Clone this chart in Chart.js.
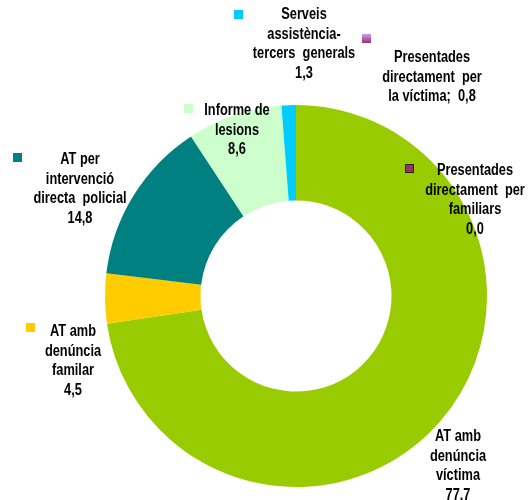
<!DOCTYPE html>
<html lang="ca">
<head>
<meta charset="utf-8">
<title>Origen dels atestats</title>
<script src="https://cdn.jsdelivr.net/npm/chart.js"></script>
<style>
  html, body { margin: 0; padding: 0; background: #fff; }
  #wrap { width: 528px; height: 500px; position: relative; }
</style>
</head>
<body>
<div id="wrap"><canvas id="ring" width="528" height="500"></canvas></div>
<script>
// data, clockwise from 12 o'clock
const categories = [
  ["AT amb", "denúncia", "víctima"],
  ["AT amb", "denúncia", "familar"],
  ["AT per", "intervenció", "directa  policial"],
  ["Informe de", "lesions"],
  ["Serveis", "assistència-", "tercers  generals"],
  ["Presentades", "directament  per", "la víctima;"],
  ["Presentades", "directament  per", "familiars"]
];
const values = [77.7, 4.5, 14.8, 8.6, 1.3, 0.8, 0.0];
const valueLabels = ["77.7", "4,5", "14,8", "8,6", "1,3", "0,8", "0,0"];
const colors = ["#99cc00", "#ffcc00", "#008080", "#ccffcc", "#00ccff", "#cc99ff", "#993366"];
// the 0,8 share is only listed in the labels, not drawn in the ring
const inRing = [true, true, true, true, true, false, true];

// label placement (text centre x, first line y, marker x/y)
const labelPos = [
  { x: 458, y: 437, mx: null, my: null, inline: false },
  { x: 73, y: 332, mx: 26, my: 323, inline: false },
  { x: 80, y: 160, mx: 13, my: 153, inline: false },
  { x: 237, y: 111, mx: 184, my: 104, inline: false },
  { x: 304, y: 15, mx: 234, my: 10, inline: false },
  { x: 432, y: 58, mx: 362, my: 34, inline: true },
  { x: 475, y: 171, mx: 405, my: 164, inline: false }
];

const FONT = "bold 16px 'Liberation Sans', Arial, sans-serif";
const SQUEEZE = 0.8; // narrow face look

const outsideLabels = {
  id: "outsideLabels",
  afterDraw(chart) {
    const ctx = chart.ctx;
    ctx.save();
    ctx.font = FONT;
    ctx.textAlign = "center";
    ctx.textBaseline = "middle";
    categories.forEach((lines, i) => {
      const p = labelPos[i];
      const all = lines.slice();
      if (p.inline) all[all.length - 1] += "  " + valueLabels[i];
      else all.push(valueLabels[i]);
      ctx.fillStyle = "#000";
      all.forEach((t, k) => {
        ctx.save();
        ctx.translate(p.x, p.y + k * 19.5);
        ctx.scale(SQUEEZE, 1);
        ctx.fillText(t, 0, 0);
        ctx.restore();
      });
      if (p.mx !== null) {
        if (i === 5) {
          const g = ctx.createLinearGradient(0, p.my, 0, p.my + 9);
          g.addColorStop(0, "#cc99ff");
          g.addColorStop(1, "#993366");
          ctx.fillStyle = g;
        } else {
          ctx.fillStyle = colors[i];
        }
        ctx.fillRect(p.mx, p.my, 9, 9);
        if (i === 6) {
          ctx.strokeStyle = "#222";
          ctx.lineWidth = 1;
          ctx.strokeRect(p.mx + 0.5, p.my + 0.5, 8, 8);
        }
      }
    });
    ctx.restore();
  }
};

const chart = new Chart(document.getElementById("ring"), {
  type: "doughnut",
  data: {
    labels: categories.map(l => l.join(" ")),
    datasets: [{
      data: values,
      backgroundColor: colors,
      borderWidth: 0
    }]
  },
  options: {
    responsive: false,
    animation: false,
    cutout: "50%",
    layout: { padding: { left: 105, right: 41, top: 105, bottom: 13 } },
    plugins: {
      legend: { display: false },
      tooltip: { enabled: false }
    }
  },
  plugins: [outsideLabels]
});

inRing.forEach((show, i) => { if (!show) chart.toggleDataVisibility(i); });
chart.update();
</script>
</body>
</html>
